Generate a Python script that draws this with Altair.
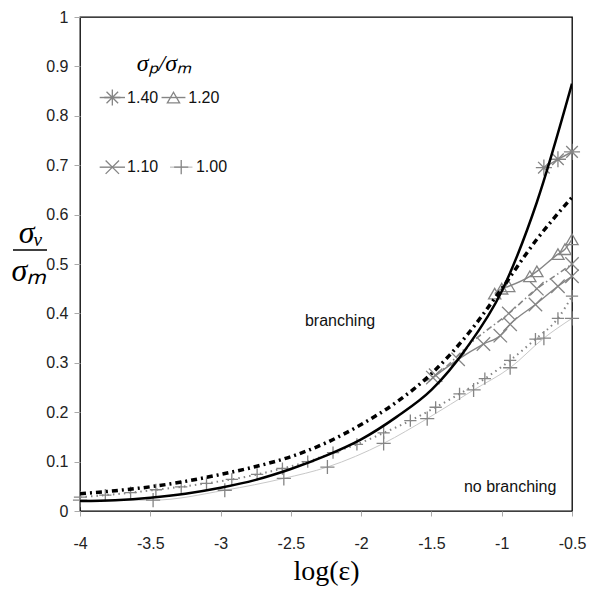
import altair as alt
import pandas as pd

# ---- data ----
x_fit = [-4, -3.75, -3.5, -3.25, -3, -2.75, -2.5, -2.25, -2, -1.75, -1.5, -1.25, -1, -0.75, -0.5]
y_solid = [0.020, 0.022, 0.027, 0.035, 0.047, 0.063, 0.085, 0.112, 0.145, 0.19, 0.245, 0.33, 0.445, 0.625, 0.865]
y_dash = [0.035, 0.041, 0.049, 0.06, 0.074, 0.09, 0.11, 0.138, 0.175, 0.22, 0.278, 0.355, 0.45, 0.55, 0.635]

x_140 = [-0.7, -0.6, -0.5]
y_140 = [0.695, 0.712, 0.727]

x_120 = [-1.05, -1.0, -0.95, -0.8, -0.75, -0.6, -0.55, -0.5]
y_120 = [0.44, 0.45, 0.455, 0.475, 0.485, 0.52, 0.53, 0.55]

x_110 = [-1.49, -1.31, -1.13, -1.01, -0.94, -0.76, -0.6, -0.5]
y_110 = [0.27, 0.307, 0.338, 0.355, 0.378, 0.418, 0.455, 0.475]

x_110b = [-1.55, -1.47, -1.2, -0.95, -0.75, -0.6, -0.5]
y_110b = [0.262, 0.275, 0.345, 0.40, 0.45, 0.48, 0.50]
m_110b = [False, True, False, True, True, False, True]

x_100 = [-4, -3.82, -3.64, -3.46, -3.28, -3.1, -2.92, -2.74, -2.56, -2.38, -2.2, -2.03,
         -1.84, -1.65, -1.47, -1.3, -1.12, -0.94, -0.76, -0.6, -0.5]
y_100 = [0.028, 0.032, 0.037, 0.043, 0.049, 0.056, 0.064, 0.074, 0.086, 0.10, 0.118, 0.135,
         0.158, 0.183, 0.21, 0.237, 0.268, 0.305, 0.348, 0.39, 0.435]

x_100b = [-4, -3.48, -2.97, -2.55, -2.24, -1.84, -1.53, -1.2, -0.94, -0.7, -0.5]
y_100b = [0.022, 0.022, 0.042, 0.066, 0.089, 0.137, 0.187, 0.245, 0.29, 0.35, 0.39]

legend_labels = ["1.40", "1.20", "1.10", "1.00"]
x_ticks = [-4, -3.5, -3, -2.5, -2, -1.5, -1, -0.5]
y_ticks = [0, 0.1, 0.2, 0.3, 0.4, 0.5, 0.6, 0.7, 0.8, 0.9, 1]

# ---- styling ----
GRAY = "#858585"
LIGHT = "#c8c8c8"
FONT = "Liberation Sans"
ASTER = "M-1,0L1,0M0,-1L0,1M-0.72,-0.72L0.72,0.72M-0.72,0.72L0.72,-0.72"
XSHAPE = "M-1,-1L1,1M-1,1L1,-1"
PLUS = "M-1,0L1,0M0,-1L0,1"

xs = alt.Scale(domain=[-4, -0.5], nice=False, zero=False)
ys = alt.Scale(domain=[0, 1], nice=False)

xax = alt.Axis(values=x_ticks, title="log(\u03b5)", titleFont="Liberation Serif", titleFontSize=28,
               titleFontWeight="normal", titleColor="black", titlePadding=6,
               labelFont=FONT, labelFontSize=16, labelColor="#222", labelPadding=19,
               tickColor="#aaa", tickSize=5, domain=False, grid=False,
               labelExpr="datum.value + ''", labelFlush=False)
yax = alt.Axis(values=y_ticks, title=None, labelFont=FONT, labelFontSize=16, labelColor="#222",
               labelPadding=6, tickColor="#aaa", tickSize=6, domain=False, grid=False,
               labelExpr="datum.value + ''")


def line_layer(xv, yv, color, width, dash=None, first=False):
    df = pd.DataFrame({"x": xv, "y": yv})
    kw = dict(color=color, strokeWidth=width, interpolate="monotone", clip=True)
    if dash:
        kw["strokeDash"] = dash
    if first:
        enc = dict(x=alt.X("x:Q", scale=xs, axis=xax), y=alt.Y("y:Q", scale=ys, axis=yax))
    else:
        enc = dict(x=alt.X("x:Q", scale=xs), y=alt.Y("y:Q", scale=ys))
    return alt.Chart(df).mark_line(**kw).encode(**enc)


def point_layer(xv, yv, shape, size, color=GRAY, width=1.3):
    df = pd.DataFrame({"x": xv, "y": yv})
    return alt.Chart(df).mark_point(shape=shape, size=size, filled=False, stroke=color,
                                    strokeWidth=width, opacity=1).encode(
        x=alt.X("x:Q", scale=xs), y=alt.Y("y:Q", scale=ys))


layers = []
layers.append(line_layer(x_100b, y_100b, LIGHT, 1.0, first=True))
layers.append(point_layer(x_100b, y_100b, PLUS, 200))
layers.append(line_layer(x_100, y_100, GRAY, 2.0, dash=[1.5, 4]))
layers.append(point_layer(x_100, y_100, PLUS, 150))
layers.append(line_layer(x_110, y_110, GRAY, 1.4))
layers.append(point_layer(x_110, y_110, XSHAPE, 180))
layers.append(line_layer(x_110b, y_110b, GRAY, 1.6, dash=[6, 3, 1.5, 3]))
layers.append(point_layer([a for a, m in zip(x_110b, m_110b) if m],
                          [b for b, m in zip(y_110b, m_110b) if m], XSHAPE, 180))
layers.append(line_layer(x_120, y_120, GRAY, 1.4))
layers.append(point_layer(x_120, y_120, "triangle-up", 150))
layers.append(line_layer(x_140, y_140, GRAY, 1.4))
layers.append(point_layer(x_140, y_140, ASTER, 260))
layers.append(line_layer(x_fit, y_dash, "black", 3.5, dash=[6, 4, 2, 4]))
layers.append(line_layer(x_fit, y_solid, "black", 2.5))

# region labels
regions = pd.DataFrame({"x": [-2.15, -0.94], "y": [0.384, 0.048], "t": ["branching", "no branching"]})
layers.append(alt.Chart(regions).mark_text(font=FONT, fontSize=16, color="#111").encode(
    x=alt.X("x:Q", scale=xs), y=alt.Y("y:Q", scale=ys), text="t:N"))

# legend (drawn in data space, top-left)
leg_lines = pd.DataFrame({
    "x": [-3.86, -3.42, -3.86, -3.36],
    "x2": [-3.68, -3.25, -3.68, -3.20],
    "y": [0.837, 0.837, 0.696, 0.696],
    "c": [GRAY, GRAY, GRAY, LIGHT],
})
layers.append(alt.Chart(leg_lines).mark_rule(strokeWidth=1.4).encode(
    x=alt.X("x:Q", scale=xs), x2="x2:Q", y=alt.Y("y:Q", scale=ys),
    color=alt.Color("c:N", scale=None)))
leg_sym = [(-3.77, 0.837, ASTER, 260), (-3.335, 0.837, "triangle-up", 150),
           (-3.77, 0.696, XSHAPE, 180), (-3.28, 0.696, PLUS, 200)]
for sx, sy, shp, sz in leg_sym:
    layers.append(point_layer([sx], [sy], shp, sz))
leg_text = pd.DataFrame({"x": [-3.665, -3.23, -3.665, -3.175], "y": [0.837, 0.837, 0.696, 0.696],
                         "t": legend_labels})
layers.append(alt.Chart(leg_text).mark_text(font=FONT, fontSize=16, color="#111", align="left").encode(
    x=alt.X("x:Q", scale=xs), y=alt.Y("y:Q", scale=ys), text="t:N"))

# legend title sigma_p / sigma_m
ttl = pd.DataFrame({"x": [-3.40], "y": [0.905], "t": ["\u03c3\u209a/\u03c3\u2098"]})
layers.append(alt.Chart(ttl).mark_text(font="Liberation Serif", fontSize=24, fontStyle="italic",
                                        color="black").encode(
    x=alt.X("x:Q", scale=xs), y=alt.Y("y:Q", scale=ys), text="t:N"))

# y-axis title: fraction sigma_v / sigma_m
one = pd.DataFrame({"a": [0]})
layers.append(alt.Chart(one).mark_text(text="\u03c3\u1d65", font="Liberation Serif", fontSize=32,
                                       fontStyle="italic", color="black", align="center").encode(
    x=alt.value(-49), y=alt.value(216)))
layers.append(alt.Chart(one).mark_rule(color="black", strokeWidth=1.3).encode(
    x=alt.value(-67), x2=alt.value(-33), y=alt.value(233)))
layers.append(alt.Chart(one).mark_text(text="\u03c3\u2098", font="Liberation Serif", fontSize=32,
                                       fontStyle="italic", color="black", align="center").encode(
    x=alt.value(-51), y=alt.value(254)))

chart = alt.layer(*layers).properties(
    width=492, height=494,
    autosize=alt.AutoSizeParams(type="none"),
    padding={"left": 72, "top": 9, "right": 22, "bottom": 80},
).configure_view(stroke="black", strokeWidth=1.3)

chart.save("out.html", embed_options={"renderer": "svg", "actions": False})
